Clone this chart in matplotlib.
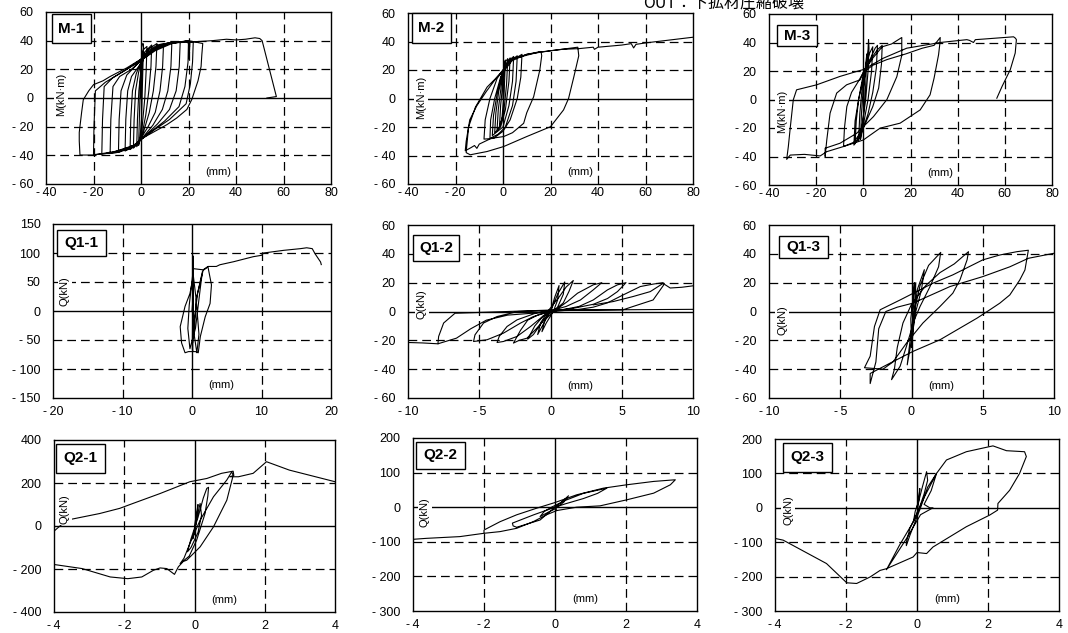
import matplotlib
matplotlib.use("Agg")
import matplotlib.pyplot as plt
from matplotlib.patches import Rectangle

# ---------------- data ----------------
M_XTICKS = [-40, -20, 0, 20, 40, 60, 80]
M_YTICKS = [-60, -40, -20, 0, 20, 40, 60]
Q11_XTICKS = [-20, -10, 0, 10, 20]
Q11_YTICKS = [-150, -100, -50, 0, 50, 100, 150]
Q1_XTICKS = [-10, -5, 0, 5, 10]
Q1_YTICKS = [-60, -40, -20, 0, 20, 40, 60]
Q21_XTICKS = [-4, -2, 0, 2, 4]
Q21_YTICKS = [-400, -200, 0, 200, 400]
Q2_XTICKS = [-4, -2, 0, 2, 4]
Q2_YTICKS = [-300, -200, -100, 0, 100, 200]

TITLES = ["M-1", "M-2", "M-3", "Q1-1", "Q1-2", "Q1-3", "Q2-1", "Q2-2", "Q2-3"]
YLABELS = ["M(kN·m)"] * 3 + ["Q(kN)"] * 6
XLABEL = "(mm)"
CAPTION = "OUT：下拡材圧縮破壊"

M1 = [(0, 0), (0.3, 20), (0.6, 30), (1, 33),
      (0.6, 10), (0.2, -15), (-0.5, -30), (-1, -33),
      (-0.6, -10), (-0.2, 15), (0.5, 30), (1, 35), (0.8, 38), (1.2, 34), (2.5, 36),
      (2.2, 20), (1.6, 0), (0.5, -20), (-0.5, -30), (-1.8, -34),
      (-1.5, -15), (-0.9, 5), (0, 20), (1.5, 32), (4.5, 37),
      (4.2, 22), (3.3, 5), (2, -12), (0.5, -25), (-1, -31), (-3.2, -35),
      (-2.9, -15), (-2.3, 5), (-1, 18), (0.5, 27), (3, 34), (6.7, 38),
      (6.3, 22), (5.2, 5), (3.5, -10), (1, -24), (-1, -31), (-4.6, -36),
      (-4.3, -15), (-3.6, 5), (-2, 17), (0, 25), (3, 33), (7, 37), (9.5, 38),
      (9.1, 22), (8, 5), (6, -10), (3, -20), (0, -28), (-3, -34), (-6.7, -37),
      (-6.4, -15), (-5.6, 5), (-4, 15), (-1, 22), (2, 30), (7, 36), (13, 39),
      (12.6, 22), (11.3, 5), (9, -8), (5, -19), (1, -27), (-3, -34), (-9.5, -38),
      (-9.2, -15), (-8.4, 5), (-6, 16), (-2, 23), (2, 31), (8, 37), (16.5, 39),
      (16.1, 22), (14.8, 5), (12, -8), (7, -18), (2, -26), (-3, -33), (-13, -38.5),
      (-12.7, -15), (-11.8, 8), (-9, 15), (-4, 20), (0, 26), (5, 33), (11, 38), (20, 40),
      (19.8, 25), (18.5, 8), (16, -6), (10, -16), (3, -25), (-3, -33), (-10, -38), (-16.5, -39),
      (-16.2, -15), (-15.5, 8), (-12, 14), (-6, 20), (0, 27), (6, 34), (13, 38.5), (22, 39),
      (21.7, 25), (20.8, 10), (19, -4), (12, -15), (4, -24), (-3, -33), (-10, -38), (-20, -39.5),
      (-19.8, -20), (-19.2, 5), (-15, 11), (-8, 18), (-1, 25), (6, 33), (13, 38), (20, 40), (26, 38),
      (25.6, 30), (25.3, 22), (24, 12), (21.4, -1), (19.3, -8), (15, -14), (10.9, -18.6), (5, -24),
      (-0.4, -29), (-3.2, -33.7), (-10, -37), (-20, -39.8), (-25.7, -39.8),
      (-26, -30), (-26, -24), (-25, -10), (-24.3, -1.2), (-22, 5), (-20, 9.3), (-16, 12), (-13, 15),
      (-6, 21), (-0.4, 26.7), (5.2, 33.7), (10.9, 38.4), (19.3, 39.5), (20, 38), (20.3, 27), (20.6, 39),
      (25, 39.5), (30, 40), (36, 41), (40, 40.5), (44, 41), (48, 42), (50, 41.5), (51, 40), (57, 1), (53, 0)]

M2 = [(0, 0), (0.3, 20), (0.6, 25), (1, 27),
      (0.5, 5), (-0.5, -15), (-1.5, -20),
      (-1, -5), (0, 12), (0.8, 25), (2, 28),
      (1.5, 10), (0.3, -10), (-1.5, -20), (-2.5, -22),
      (-2, -8), (-0.8, 8), (0.5, 22), (3, 28.5),
      (2.5, 12), (1, -8), (-1, -20), (-3.5, -24),
      (-3, -10), (-1.8, 5), (0, 18), (2, 26), (4.5, 29.5),
      (4, 12), (2.5, -5), (0, -20), (-4.5, -26),
      (-4, -12), (-2.5, 3), (-0.5, 17), (2, 25), (6, 30),
      (5.5, 12), (4, -5), (1, -20), (-2, -25), (-5.5, -28),
      (-5.2, -15), (-3.5, 0), (-1, 15), (2, 25), (8, 31),
      (7.5, 15), (6, 0), (3, -15), (0, -23), (-4, -28), (-8, -28.5),
      (-7.5, -15), (-5.5, 0), (-2.5, 14), (0, 20), (3, 27), (10, 31), (16, 33),
      (16.3, 30), (15.5, 20), (12.9, 1.2), (10, -10), (8.7, -17.4), (4, -24), (0.3, -26.7),
      (-5, -28), (-10, -32), (-11, -35), (-12, -33), (-13.5, -34.5), (-15.9, -36.7),
      (-15.5, -30), (-14, -15), (-11, -5), (-7, 5), (-3, 14), (0, 20), (3, 26), (10, 31), (20, 33.5), (31.5, 36),
      (31.9, 30), (29.8, 15), (27.6, 0), (25.5, -8), (20, -19.8), (10, -26.7), (0.3, -33.7), (-6.7, -37.2),
      (-13.8, -39.5), (-15.5, -38),
      (-15.4, -36), (-14.5, -20), (-11.6, -6), (-6.7, 8), (-1.1, 17.4), (1.7, 22), (4.5, 28), (15, 32.5),
      (25, 34.5), (32, 35), (38, 36), (38.5, 34.5), (40, 36), (50, 37.5), (54, 38.5), (55, 35.5), (56, 38),
      (60, 39), (70, 41), (80, 43)]

M3 = [(0, 0), (0.5, 15), (1, 25), (1.5, 32),
      (1, 10), (0, -12), (-0.8, -25), (-1.2, -28),
      (-0.8, -10), (0, 8), (1.2, 25), (2, 35), (2.2, 42), (2.4, 36),
      (2, 20), (1, 0), (-0.5, -18), (-2, -29),
      (-1.5, -10), (-0.5, 8), (1, 22), (2.5, 32), (4, 37),
      (3.5, 20), (2, 0), (0, -18), (-2.5, -28), (-3.5, -31),
      (-3, -15), (-2, 0), (0, 15), (2, 25), (5, 36), (6, 38),
      (5.5, 22), (4, 5), (2, -10), (-1, -25), (-4, -32),
      (-3.5, -15), (-2, 0), (0, 18), (3, 28), (6, 35), (8, 38),
      (7.7, 25), (6.5, 8), (4, -5), (0, -20), (-4, -30), (-8.4, -33),
      (-8, -20), (-7, -5), (-5, 5), (-2, 13), (0, 19), (4, 29), (8, 37), (12, 39), (16.3, 43.5),
      (16.3, 31), (14.2, 16), (10, 0), (4.3, -12), (-2.8, -23.7), (-9.9, -30.7), (-16.2, -34.2), (-16.2, -40),
      (-15.5, -28.4), (-14.1, -9.6), (-11.3, 4.5), (-7.1, 10.3), (-1.4, 13.8), (0, 19), (4, 24), (10, 28),
      (18, 32), (25, 36), (30, 38), (32.6, 43.5),
      (32.5, 40), (31.9, 31.4), (30, 15), (28.3, 3.3), (24.1, -7.3), (15.6, -16.6), (7.1, -20.1), (0, -28.4),
      (-8.4, -33), (-15.5, -36.6), (-18.3, -39.6), (-25, -38.5), (-31, -39), (-32.5, -42),
      (-31.8, -33), (-31, -20), (-29.7, -0.2), (-28.3, 6.8), (-19.8, 10.3), (-9.9, 16.2), (-2.8, 19.7), (0, 21),
      (8.5, 29), (18.4, 36), (32.6, 40), (43.9, 42), (45, 41.5), (46.7, 40), (47.5, 42), (50.9, 42.4),
      (63.7, 44), (64.5, 43),
      (64.9, 42), (64.4, 32.6), (62.3, 20.9), (58.8, 9.1), (56.6, 0.9)]

Q11 = [(0, 0), (0.2, 30), (0.15, 95), (0.1, 0), (0.05, -65), (0.1, -70), (0.15, 60), (0.1, -55),
       (0.3, -20), (0.8, 30), (1.6, 70), (2.3, 76), (2.8, 45), (2.6, 13), (1.9, -10), (1.2, -44),
       (0.9, -72), (0.5, -70), (-0.5, -70), (-1, -72), (-1.5, -55), (-1.7, -27), (-1, 8), (-0.3, 30),
       (0.2, 60), (0.6, 20), (1.0, -40), (0.7, -72), (0.3, -40), (0.6, 20), (1.5, 68), (1.2, 40),
       (0.5, -30), (-0.3, -65), (-0.6, -30), (-0.4, 10), (0.2, 73),
       (1.6, 71), (2.3, 76.8), (3.5, 76.8), (4, 79.7), (6, 85), (8.8, 93.6), (10, 96), (10.3, 100),
       (13.2, 104.6), (15.6, 107.5), (16.5, 109), (17.3, 107.5), (17.7, 98.8), (18.5, 84.5), (18.6, 80)]

Q12_MAIN = [(0, 0), (0.3, 10), (0.6, 18), (0.5, 8), (0.2, 0), (-0.3, -8), (-0.6, -14), (-0.4, -6), (0, 0),
            (0.5, 12), (1.0, 20.5), (0.9, 12), (0.5, 3), (-0.3, -5), (-0.9, -16), (-0.7, -8), (-0.2, 0),
            (0.6, 10), (1.1, 17), (1.6, 21.5), (1.3, 14), (0.9, 6), (0.3, 1), (-0.5, -3), (-1.1, -10),
            (-1.6, -19.2), (-1.2, -16), (-0.7, -9), (-0.2, -2),
            (0.5, 2), (1.2, 7), (1.9, 12.7), (3, 18.5), (3.6, 20), (3, 15), (2.1, 8), (1.1, 3.5), (0, 0.5),
            (-0.8, -2), (-1.6, -6), (-2.1, -13), (-2.6, -21.9), (-2.2, -20), (-1.65, -18.5), (-1.0, -12),
            (-0.3, -4), (0, 0),
            (1, 1.5), (2, 3.5), (3, 8), (4, 15), (4.7, 18.5), (5.3, 20), (4.7, 13.8), (4, 9), (3, 5),
            (1.5, 2), (0, 0.5),
            (-1, -1), (-2.35, -5.8), (-3.05, -10.4), (-3.6, -17.3), (-3.75, -21.5), (-3.3, -20.8),
            (-2.35, -17.3), (-1.4, -10.4), (-0.5, -3), (0, 0),
            (2, 1.5), (3, 3), (4, 6), (5.1, 11.5), (6.3, 17.3), (7.2, 19), (7.9, 20), (7.95, 18.5),
            (7.2, 8), (5.8, 3.5), (5.1, 1.2), (3, 1), (0, 0.5),
            (-2.3, 0), (-3.75, -3.5), (-4.7, -8), (-5.3, -16.2), (-5.4, -20.8), (-4.45, -19.6), (-3.3, -15),
            (-2.1, -8), (-1.2, -3.5), (0, 0),
            (-1, -1), (-3, -2.5), (-4.5, -6), (-5.6, -12), (-6.6, -18.5), (-7.9, -22.4), (-7.85, -17.3),
            (-7.5, -8), (-6.7, -1.2), (-3, 0), (0, 1), (5, 1.2), (10, 1.5)]
Q12_LEFT = [(-10, -21.5), (-9, -21.8), (-7.9, -22.4)]
Q12_RIGHT = [(3, 4.6), (4.4, 6.9), (5.8, 10.4), (7, 13.8), (7.9, 19.5), (8.4, 16.3), (9.2, 16.8), (10, 17.8)]

Q13 = [(0, 0), (0.1, 8), (0.2, 20), (0.15, 5), (0.05, -10), (0, -20), (-0.05, -5), (0.15, 12), (0.3, 20),
       (0.25, 5), (0.1, -15), (0, -25), (0.1, -10), (0.4, 15), (0.9, 29), (0.7, 15), (0.3, 0), (0, -20),
       (-0.3, -37), (-0.1, -20), (0.2, 0), (0.6, 18), (1.2, 32), (2.05, 41),
       (1.9, 31), (1.3, 17.3), (0.6, 3.5), (0.2, -5.8), (-0.35, -24), (-0.8, -38), (-1.4, -47.3),
       (-1.2, -40), (-1.0, -25), (-0.6, -8), (0, 5), (1, 18), (2, 27), (3, 33), (4, 41.5),
       (3.9, 35.8), (3.4, 21.9), (2.9, 12.7), (2, 3.5), (0.8, -8), (-0.35, -21.9), (-1.3, -35), (-2, -40),
       (-3.3, -39),
       (-2.9, -31), (-2.6, -10.4), (-2.2, 1.2), (-0.8, 8), (1.5, 19.6), (2.9, 25.4), (5, 35.8), (6.2, 39.2),
       (7.4, 41.5), (8.2, 42.5),
       (7.96, 28.8), (7.6, 21.9), (6.9, 11.5), (6.2, 5.8), (5.5, 1.2), (4.6, -4.6), (2, -19.6), (0.1, -27.7),
       (-1.5, -35.8), (-2.9, -43), (-2.9, -50),
       (-2.5, -35), (-2.3, -12), (-1.8, 0), (-1, 3), (0.1, 5.8), (2.7, 17.3), (5, 24.2), (6.9, 31),
       (8.2, 36.9), (10, 40.4)]

Q21_MAIN = [(0, 0), (0.05, 50), (0.1, 100), (0.06, 30), (0, -30), (-0.05, -60), (0, -20), (0.1, 60),
            (0.16, 105), (0.2, 50), (0.1, -30), (-0.1, -100), (-0.2, -120), (-0.1, -60), (0.1, 40),
            (0.25, 130), (0.35, 175), (0.4, 180), (0.38, 140), (0.3, 58), (0.15, -20), (0.06, -66),
            (-0.15, -140), (-0.41, -175), (-0.3, -150), (-0.13, -81), (0.16, 27), (0.54, 136), (0.92, 214),
            (1.06, 252), (1.1, 235), (0.92, 120), (0.54, -4), (0.16, -97), (-0.22, -159), (-0.32, -165),
            (-0.46, -190), (-0.57, -225), (-0.79, -198), (-0.98, -195), (-1.17, -206), (-1.5, -237),
            (-1.9, -245), (-2.4, -237), (-3.2, -198), (-4, -179)]
Q21_UPPER = [(-4, -24), (-3.64, 27), (-2.7, 58), (-2.13, 82), (-1.75, 105), (-0.98, 151), (-0.13, 206),
             (0.35, 221), (0.77, 245), (1.1, 255), (1.12, 235), (1.0, 229), (1.25, 229), (1.67, 245),
             (2.05, 299), (2.7, 260), (4, 206)]

Q22_MAIN = [(0, 0), (0.15, 12), (0.38, 33), (0.25, 15), (0, -5), (-0.2, -15), (-0.42, -27), (-0.3, -12),
            (-0.1, 0), (0.3, 20), (0.8, 40), (1.46, 55), (1.2, 40), (0.8, 25), (0.3, 10), (0, 0),
            (-0.42, -37), (-1.08, -58), (-1.18, -54), (-1.2, -46), (-0.6, -22), (0, 0),
            (0.05, -9.7), (0.61, 0), (1.27, 3.9), (2.02, 21.3), (2.78, 40.6), (3.25, 64.8), (3.39, 79.3),
            (2.78, 74.5), (2.02, 64.8), (1.36, 55), (0.61, 35.8), (0, 13.5), (-0.52, -3), (-1.08, -22),
            (-1.55, -42), (-2.0, -66), (-2.0, -75.4), (-1.55, -70.6), (-1.08, -61), (-0.61, -41.6),
            (-0.24, -22), (0.05, -9.7)]
Q22_TAIL = [(-2.0, -75.4), (-2.68, -85), (-3.62, -90), (-4, -92.8)]

Q23 = [(0, 0), (0.05, 30), (0.08, 56), (0.05, 20), (0, -20), (-0.1, -40), (-0.05, -10), (0.05, 20),
       (0.15, 60), (0.27, 105), (0.3, 80), (0.2, 40), (0.05, -5), (-0.2, -60), (-0.3, -100), (-0.3, -110),
       (-0.2, -80), (0.1, 0), (0.3, 60), (0.55, 100), (0.4, 50), (0.2, 10), (0.36, 0), (0.45, 0),
       (0.1, -20), (-0.3, -90), (-0.86, -180), (-0.5, -110), (-0.1, -40), (0.2, 30), (0.55, 100),
       (0.83, 139), (1.39, 163), (2.05, 178), (2.14, 180), (2.52, 166), (3.03, 163), (3.08, 149),
       (2.89, 100), (2.61, 51), (2.28, 12.6), (2.27, -6.8), (2.05, -21), (1.39, -55), (0.45, -114),
       (0.27, -133), (0, -130), (-0.11, -143), (-0.86, -177), (-1.04, -182), (-1.32, -201), (-1.7, -220),
       (-1.98, -218), (-2.55, -162), (-3.77, -94), (-4, -89)]

# ---------------- layout (pixel rectangles: left, top, right, bottom) ----------------
W, H = 1068, 633
PANELS = [
    dict(rect=(46, 12, 331, 184), xt=M_XTICKS, yt=M_YTICKS, series=[M1],
         box=(0.021, 0.988, 0.137, 0.169), ylab=(0.053, 0.52), xpad=2.5),
    dict(rect=(408, 13, 693, 184), xt=M_XTICKS, yt=M_YTICKS, series=[M2],
         box=(0.014, 1.0, 0.137, 0.175), ylab=(0.046, 0.506), xpad=2.5),
    dict(rect=(769, 14, 1052, 185), xt=M_XTICKS, yt=M_YTICKS, series=[M3],
         box=(0.028, 0.936, 0.141, 0.125), ylab=(0.046, 0.43), xpad=2.5),
    dict(rect=(53, 224, 331, 398), xt=Q11_XTICKS, yt=Q11_YTICKS, series=[Q11],
         box=(0.014, 0.966, 0.176, 0.149), ylab=(0.043, 0.615), xpad=6),
    dict(rect=(408, 225, 693, 398), xt=Q1_XTICKS, yt=Q1_YTICKS, series=[Q12_MAIN, Q12_LEFT, Q12_RIGHT],
         box=(0.018, 0.942, 0.161, 0.150), ylab=(0.049, 0.54), xpad=6),
    dict(rect=(769, 225, 1054, 398), xt=Q1_XTICKS, yt=Q1_YTICKS, series=[Q13],
         box=(0.035, 0.936, 0.172, 0.127), ylab=(0.046, 0.45), xpad=6),
    dict(rect=(54, 440, 335, 612), xt=Q21_XTICKS, yt=Q21_YTICKS, series=[Q21_MAIN, Q21_UPPER],
         box=(0.007, 0.977, 0.174, 0.169), ylab=(0.039, 0.60), xpad=6),
    dict(rect=(413, 438, 697, 611), xt=Q2_XTICKS, yt=Q2_YTICKS, series=[Q22_MAIN, Q22_TAIL],
         box=(0.011, 0.977, 0.173, 0.156), ylab=(0.042, 0.57), xpad=6),
    dict(rect=(775, 439, 1059, 611), xt=Q2_XTICKS, yt=Q2_YTICKS, series=[Q23],
         box=(0.028, 0.977, 0.173, 0.169), ylab=(0.046, 0.587), xpad=6),
]

plt.rcParams["font.family"] = ["Liberation Sans", "DejaVu Sans"]
fig = plt.figure(figsize=(W / 100, H / 100), dpi=100)
fig.patch.set_facecolor("white")

DASH = (0, (7, 4))


def xfmt(v):
    return ("-\u2009" + str(-v)) if v < 0 else str(v)


def yfmt(v):
    return ("- " + str(-v)) if v < 0 else str(v)


for p, title, ylab in zip(PANELS, TITLES, YLABELS):
    l, t, r, b = p["rect"]
    ax = fig.add_axes([l / W, 1 - b / H, (r - l) / W, (b - t) / H])
    xt, yt = p["xt"], p["yt"]
    ax.set_xlim(xt[0], xt[-1])
    ax.set_ylim(yt[0], yt[-1])
    ax.set_xticks(xt)
    ax.set_yticks(yt)
    ax.set_xticklabels([xfmt(v) for v in xt])
    ax.set_yticklabels([yfmt(v) for v in yt])
    ax.tick_params(axis="both", length=0, labelsize=9, colors="black")
    ax.tick_params(axis="x", pad=p["xpad"])
    ax.tick_params(axis="y", pad=9)
    for s in ax.spines.values():
        s.set_linewidth(1.0)
        s.set_color("black")
    for v in xt[1:-1]:
        if v == 0:
            ax.axvline(v, color="black", lw=1.0, zorder=2)
        else:
            ax.axvline(v, color="black", lw=0.9, ls=DASH, zorder=1)
    for v in yt[1:-1]:
        if v == 0:
            ax.axhline(v, color="black", lw=1.0, zorder=2)
        else:
            ax.axhline(v, color="black", lw=0.9, ls=DASH, zorder=1)
    for ser in p["series"]:
        xs = [q[0] for q in ser]
        ys = [q[1] for q in ser]
        ax.plot(xs, ys, color="black", lw=0.8, zorder=3, solid_joinstyle="round")
    bx, btop, bw, bh = p["box"]
    ax.add_patch(Rectangle((bx, btop - bh), bw, bh, transform=ax.transAxes, fc="white",
                           ec="black", lw=1.0, zorder=6, clip_on=False))
    ax.text(bx + bw / 2, btop - bh / 2, title, transform=ax.transAxes, ha="center", va="center",
            fontsize=11, fontweight="bold", zorder=7)
    ax.text(p["ylab"][0], p["ylab"][1], ylab, transform=ax.transAxes, rotation=90, ha="center",
            va="center", fontsize=8, zorder=5,
            bbox=dict(boxstyle="square,pad=0.15", fc="white", ec="none"))
    ax.text(0.605, 0.072, XLABEL, transform=ax.transAxes, ha="center", va="center", fontsize=8,
            zorder=5, bbox=dict(boxstyle="square,pad=0.1", fc="white", ec="none"))

fig.text(643 / W, 1 - 7 / H, CAPTION, ha="left", va="baseline", fontsize=11.5,
         family=["Noto Sans CJK JP", "DejaVu Sans"])

fig.savefig("out.png", dpi=100, facecolor="white")
